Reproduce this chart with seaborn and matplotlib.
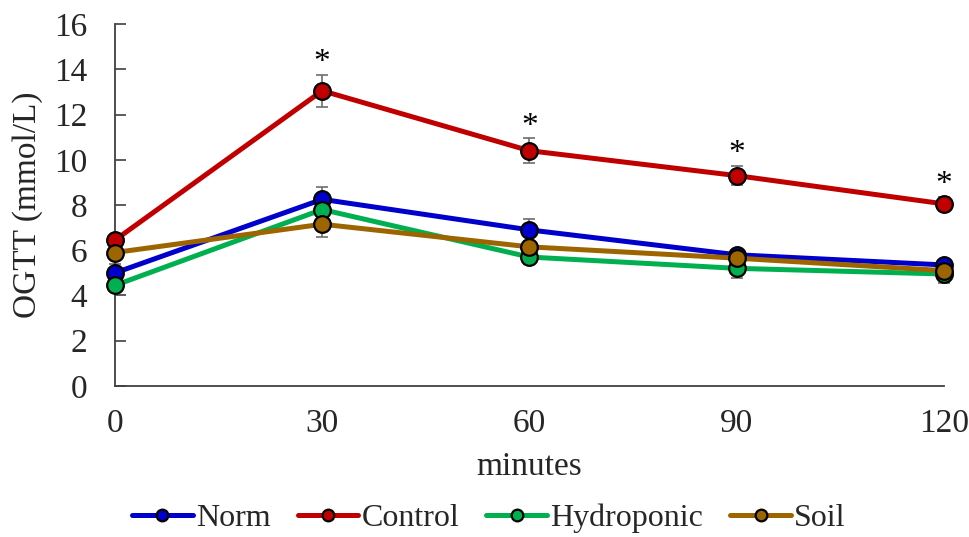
import numpy as np
import pandas as pd
import seaborn as sns
import matplotlib.pyplot as plt

minutes = [0, 30, 60, 90, 120]
groups = ["Norm", "Control", "Hydroponic", "Soil"]

norm = [5.0, 8.25, 6.9, 5.8, 5.35]
control = [6.45, 13.05, 10.4, 9.3, 8.05]
hydroponic = [4.45, 7.8, 5.7, 5.2, 4.95]
soil = [5.9, 7.15, 6.15, 5.65, 5.1]

norm_err = [0.4, 0.55, 0.5, 0.2, 0.2]
control_err = [0.2, 0.7, 0.55, 0.42, 0.32]
hydroponic_err = [0.2, 0.3, 0.3, 0.42, 0.38]
soil_err = [0.2, 0.55, 0.25, 0.2, 0.2]

# significance marks above Control
star_minutes = [30, 60, 90, 120]

colors = ["#0000CC", "#C00000", "#00B050", "#9C6500"]

df = pd.DataFrame({
    "minutes": minutes * 4,
    "value": norm + control + hydroponic + soil,
    "err": norm_err + control_err + hydroponic_err + soil_err,
    "group": np.repeat(groups, len(minutes)),
})

sns.set_style("white")
plt.rcParams["font.family"] = ["Liberation Serif", "DejaVu Serif"]
fs = 24

fig = plt.figure(figsize=(9.7, 5.37), dpi=100)
ax = fig.add_axes([0.1186, 0.2812, 0.8544, 0.6741])

for g in groups:
    sub = df[df["group"] == g]
    eb = ax.errorbar(sub["minutes"], sub["value"], yerr=sub["err"], fmt="none",
                     ecolor="#6d6d6d", elinewidth=1.2, capsize=4.5,
                     capthick=1.2, zorder=1)
    for art in eb.lines[1] + eb.lines[2]:
        art.set_clip_on(False)

sns.lineplot(data=df, x="minutes", y="value", hue="group", hue_order=groups,
             palette=colors, marker="o", markersize=12, markeredgecolor="black",
             markeredgewidth=1.6, linewidth=3.6, errorbar=None, ax=ax,
             zorder=3, legend=True)
for line in ax.lines:
    line.set_clip_on(False)

ctrl = df[df["group"] == "Control"].set_index("minutes")
for m in star_minutes:
    y = ctrl.loc[m, "value"] + ctrl.loc[m, "err"]
    ax.text(m, y - 0.15, "*", ha="center", va="bottom", fontsize=fs,
            color="black")

ax.set_xlim(0, 120)
ax.set_ylim(0, 16)
ax.set_xticks(minutes)
ax.set_yticks(range(0, 17, 2))
ax.tick_params(axis="y", left=True, direction="in", length=8, width=1.2,
               color="#404040", pad=20, labelsize=fs)
ax.tick_params(axis="x", length=0, pad=16, labelsize=fs)
for s in ["top", "right"]:
    ax.spines[s].set_visible(False)
for s in ["left", "bottom"]:
    ax.spines[s].set_color("#404040")
    ax.spines[s].set_linewidth(1.3)
ax.set_xlabel("minutes", fontsize=fs, labelpad=9)
ax.set_ylabel("OGTT (mmol/L)", fontsize=fs, labelpad=8)

handles, labels = ax.get_legend_handles_labels()
ax.get_legend().remove()
fig.legend(handles, labels, loc="center", bbox_to_anchor=(0.504, 0.034),
           ncol=4, frameon=False, fontsize=23, handlelength=1.9,
           handletextpad=0.1, columnspacing=0.85, markerscale=0.7)

fig.savefig("out.png", dpi=100)
